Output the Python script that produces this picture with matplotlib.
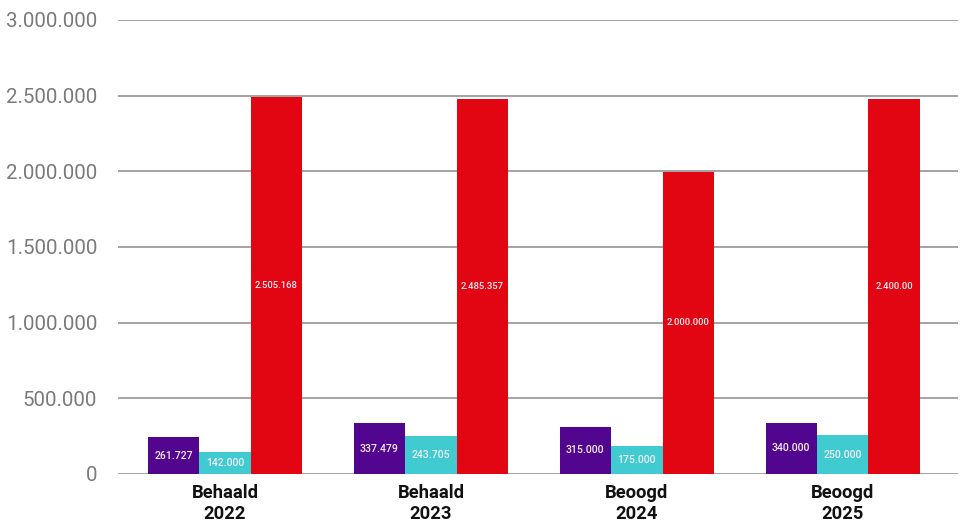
import numpy as np
import matplotlib.pyplot as plt
from matplotlib.ticker import FuncFormatter

plt.rcParams['font.family'] = ['Roboto', 'DejaVu Sans']

# ── data ────────────────────────────────────────────────────────────────────
categories = ["Behaald\n2022", "Behaald\n2023", "Beoogd\n2024", "Beoogd\n2025"]

# bar heights as drawn
purple_vals = [244000, 335000, 313000, 337000]
cyan_vals   = [143000, 251000, 185000, 256000]
red_vals    = [2491000, 2478000, 1996000, 2478000]

# labels as printed in the bars
purple_labels = ["261.727", "337.479", "315.000", "340.000"]
cyan_labels   = ["142.000", "243.705", "175.000", "250.000"]
red_labels    = ["2.505.168", "2.485.357", "2.000.000", "2.400.00"]

yticks = [0, 500000, 1000000, 1500000, 2000000, 2500000, 3000000]

# ── style ───────────────────────────────────────────────────────────────────
C_PURPLE = '#52068f'
C_CYAN   = '#40cbd1'
C_RED    = '#e20613'
GRID     = '#939393'


def dots(v, pos=None):
    return f"{int(v):,}".replace(",", ".")


fig = plt.figure(figsize=(9.61, 5.26), dpi=100)
ax = fig.add_axes([0.1228, 0.0989, 0.8741, 0.8631])

x = np.arange(len(categories))
w = 0.25

series = [
    (purple_vals, purple_labels, C_PURPLE, -w, 7.6),
    (cyan_vals,   cyan_labels,   C_CYAN,    0, 7.6),
    (red_vals,    red_labels,    C_RED,     w, 6.8),
]

for vals, labels, color, off, fs in series:
    bars = ax.bar(x + off, vals, width=w, color=color, zorder=3, linewidth=0)
    for b, lab in zip(bars, labels):
        ax.text(b.get_x() + b.get_width() / 2, b.get_height() / 2, lab,
                ha='center', va='center', fontsize=fs, color='#f1ecf5',
                fontweight='medium', zorder=4)

ax.set_xlim(-0.52, 3.56)
ax.set_ylim(0, 3000000)
ax.set_yticks(yticks)
ax.yaxis.set_major_formatter(FuncFormatter(dots))
ax.grid(axis='y', color=GRID, lw=1.2, zorder=0)
ax.set_axisbelow(True)

ax.set_xticks(x)
ax.set_xticklabels(categories, fontsize=13.2, fontweight='bold', color='#111111',
                   linespacing=1.25)
ax.tick_params(axis='x', length=0, pad=7)
ax.tick_params(axis='y', length=0, pad=15, labelsize=14.8, labelcolor='#7a7a7a')

for s in ax.spines.values():
    s.set_visible(False)

fig.savefig('out.png', dpi=100)
